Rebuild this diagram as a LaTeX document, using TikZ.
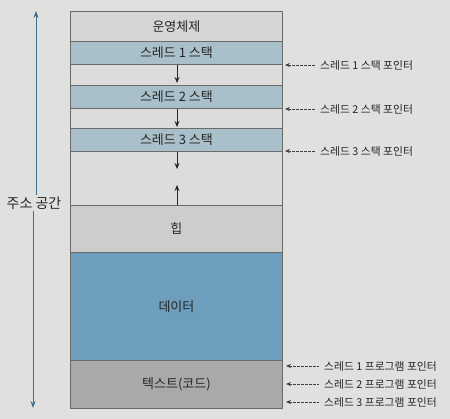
\documentclass[tikz,border=0pt]{standalone}
\usepackage{fontspec}
\setmainfont{Noto Sans CJK KR}
\usetikzlibrary{arrows.meta}
\definecolor{bg}{HTML}{E0E0DE}
\definecolor{osc}{HTML}{D6D6D4}
\definecolor{stk}{HTML}{A9BFCA}
\definecolor{gapc}{HTML}{DDDCDA}
\definecolor{heapc}{HTML}{CDCDCB}
\definecolor{datac}{HTML}{6E9EBE}
\definecolor{textc}{HTML}{A9A9A7}
\definecolor{edge}{HTML}{6A6A6A}
\definecolor{axis}{HTML}{3E6E8E}
\tikzset{
  band/.style={draw=edge, line width=0.9pt, minimum width=212pt, inner sep=0pt, anchor=north west, font=\fontsize{13}{15}\selectfont, text=black!85},
  flow/.style={-{Stealth[length=6pt,width=5pt]}, line width=0.9pt, black!85},
  ptr/.style={{Stealth[length=5pt,width=4pt]}-, dash pattern=on 2.5pt off 1.5pt, line width=0.6pt, black!75, shorten >=4pt},
  plabel/.style={anchor=west, font=\fontsize{10.8}{12}\selectfont, text=black!85, inner sep=1pt},
}
\begin{document}
\begin{tikzpicture}[x=1pt,y=-1pt]
\useasboundingbox (0,0) rectangle (450,419);
\fill[bg] (0,0) rectangle (450,419);
% bands
\node[band, fill=osc,   minimum height=30pt] (os)  at (70,11)  {운영체제};
\node[band, fill=stk,   minimum height=23pt] (s1)  at (70,41)  {스레드 1 스택};
\node[band, fill=gapc,  minimum height=21pt] (g1)  at (70,64)  {};
\node[band, fill=stk,   minimum height=23pt] (s2)  at (70,85)  {스레드 2 스택};
\node[band, fill=gapc,  minimum height=20pt] (g2)  at (70,108) {};
\node[band, fill=stk,   minimum height=23pt] (s3)  at (70,128) {스레드 3 스택};
\node[band, fill=gapc,  minimum height=54pt] (g3)  at (70,151) {};
\node[band, fill=heapc, minimum height=47pt] (heap) at (70,205) {힙};
\node[band, fill=datac, minimum height=108pt] (data) at (70,252) {데이터};
\node[band, fill=textc, minimum height=48pt] (code) at (70,360) {텍스트(코드)};
% growth arrows
\coordinate (a1) at (177,83);
\coordinate (a2) at (177,127);
\coordinate (a3) at (177,169);
\coordinate (a4) at (177,185);
\draw[flow] (s1.south -| a1) -- (a1);
\draw[flow] (s2.south -| a2) -- (a2);
\draw[flow] (s3.south -| a3) -- (a3);
\draw[flow] (heap.north -| a4) -- (a4);
% address space axis
\node[font=\fontsize{14}{16}\selectfont, text=black!85, inner sep=1pt] (addr) at (34,203) {주소 공간};
\coordinate (atop) at (36,11);
\coordinate (abot) at (33,408);
\draw[-{Stealth[length=7pt,width=5pt]}, axis, line width=1pt] (addr.north -| atop) -- (atop);
\draw[-{Stealth[length=7pt,width=5pt]}, axis, line width=1pt] (addr.south -| abot) -- (abot);
% stack pointers
\node[plabel] (p1) at (319,65) {스레드 1 스택 포인터};
\node[plabel] (p2) at (319,109) {스레드 2 스택 포인터};
\node[plabel] (p3) at (319,151) {스레드 3 스택 포인터};
\coordinate (t1) at (285,65);
\coordinate (t2) at (285,109);
\coordinate (t3) at (285,151);
\draw[ptr] (t1) -- (p1.west);
\draw[ptr] (t2) -- (p2.west);
\draw[ptr] (t3) -- (p3.west);
% program pointers
\node[plabel] (q1) at (323,366) {스레드 1 프로그램 포인터};
\node[plabel] (q2) at (323,384) {스레드 2 프로그램 포인터};
\node[plabel] (q3) at (323,402) {스레드 3 프로그램 포인터};
\coordinate (u1) at (286,366);
\coordinate (u2) at (286,384);
\coordinate (u3) at (286,402);
\draw[ptr] (u1) -- (q1.west);
\draw[ptr] (u2) -- (q2.west);
\draw[ptr] (u3) -- (q3.west);
\end{tikzpicture}
\end{document}
